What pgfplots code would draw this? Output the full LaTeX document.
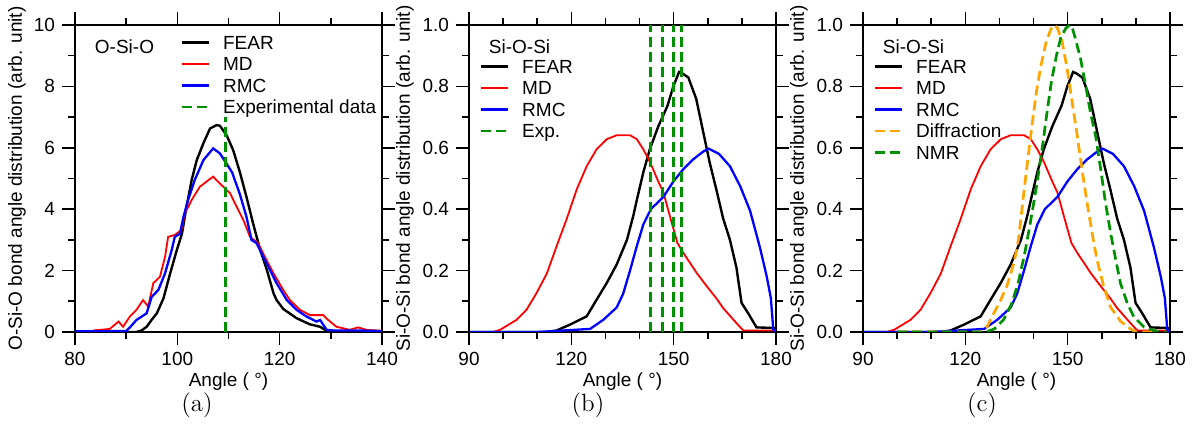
\documentclass[border=0pt]{standalone}
\usepackage{pgfplots}
\usepackage{pgfplotstable}
\pgfplotsset{compat=1.18}
\usepackage{fontspec}
\newfontfamily\arial{Liberation Sans}
\definecolor{expgreen}{RGB}{0,145,0}
\definecolor{difforange}{RGB}{255,165,0}

\pgfplotstableread{
a v
90 0
113 0
115.7 0.005
119.6 0.024
124.5 0.051
127.4 0.105
130.4 0.16
133.3 0.22
136.3 0.30
138.2 0.38
139.2 0.43
141.1 0.52
143 0.595
145.5 0.67
148.2 0.737
149.9 0.80
151.6 0.847
152.6 0.842
154.3 0.829
156.6 0.76
158.5 0.66
160.6 0.55
162.6 0.46
164.5 0.37
166.5 0.30
168.4 0.21
169.9 0.095
171.9 0.06
174.3 0.015
179.6 0.013
180 0
}\fearSi

\pgfplotstableread{
a v
90 0
97 0
99.1 0.007
104 0.04
106.9 0.073
109.8 0.127
112.8 0.19
115.7 0.28
118.6 0.367
121.6 0.465
124.5 0.54
127.4 0.595
130.4 0.628
133.3 0.641
137.2 0.641
139.2 0.628
141.1 0.595
143 0.555
145.5 0.49
147 0.454
148.9 0.377
151.1 0.29
152.8 0.258
154.8 0.225
156.7 0.193
159.7 0.149
162.5 0.11
164.5 0.078
168.4 0.029
170.4 0.005
180 0.005
}\mdSi

\pgfplotstableread{
a v
90 0
110 0
125.5 0.01
129.4 0.04
133.3 0.08
135.2 0.125
137.2 0.2
139.2 0.28
141.1 0.35
143.3 0.40
147 0.44
149.9 0.49
152.8 0.53
155.8 0.563
158.7 0.588
160.3 0.597
163.3 0.58
166.5 0.54
169.5 0.475
172.4 0.395
175.3 0.275
177.3 0.18
178.5 0.11
179.2 0.008
180 0
}\rmcSi

\pgfplotsset{
  myaxis/.style={
    scale only axis, width=153.5pt, height=153.5pt,
    axis line style={line width=0.8pt},
    tick align=outside,
    major tick length=6.5pt, minor tick length=3.5pt,
    tick style={black, line width=0.8pt},
    font=\arial\fontsize{9.5}{11}\selectfont,
    tick label style={font=\arial\fontsize{9.5}{11}\selectfont},
    /pgf/number format/assume math mode=true,
    xlabel style={at={(axis description cs:0.5,-0.163)}, anchor=center},
    legend style={draw=none, fill=none, inner sep=0pt, anchor=north west,
      nodes={inner sep=0pt, text height=7pt, text depth=0.2pt, font=\arial\fontsize{9.5}{11}\selectfont},
      column sep=6.5pt, row sep=3.55pt},
    legend cell align=left,
    legend image code/.code={\draw[##1] (0pt,0pt) -- (13.5pt,0pt);},
    xlabel={Angle ( °)},
  },
  sioaxis/.style={
    myaxis,
    xmin=90, xmax=180, ymin=0, ymax=1,
    xtick={90,120,150,180}, minor x tick num=2,
    ytick={0,0.2,0.4,0.6,0.8,1.0}, minor y tick num=1,
    yticklabel style={/pgf/number format/.cd, fixed, fixed zerofill, precision=1},
    ylabel={Si-O-Si bond angle distribution (arb. unit)},
    ylabel style={at={(axis description cs:-0.2085,0.5)}, anchor=center},
    legend style={at={(axis description cs:0.033,0.89)}},
  },
  fearline/.style={black, line width=1.2pt},
  mdline/.style={red, line width=0.9pt},
  rmcline/.style={blue, line width=1.15pt},
  dashline/.style={line width=1.35pt, dash pattern=on 5pt off 2.5pt},
}

\begin{document}
\begin{tikzpicture}
\useasboundingbox (0,0) rectangle (596.5pt,219pt);

% ---------------- (a) ----------------
\begin{axis}[myaxis, at={(37.5pt,53pt)}, anchor=south west,
  xmin=80, xmax=140, ymin=0, ymax=10,
  xtick={80,100,120,140}, minor x tick num=1,
  ytick={0,2,4,6,8,10}, minor y tick num=1,
  ylabel={O-Si-O bond angle distribution (arb. unit)},
  ylabel style={at={(axis description cs:-0.189,0.5)}, anchor=center},
  legend style={at={(axis description cs:0.342,0.968)}},
]
\addplot[fearline] coordinates {
(80,0) (92,0) (93,0.05) (94,0.17) (95,0.4) (96,0.61) (97.3,1.1) (98.6,1.91) (99.9,2.67) (100.9,3.2)
(101.8,4.08) (102.8,4.95) (103.8,5.6) (105.1,6.15) (106.4,6.63) (107.7,6.74)
(108.3,6.72) (109.6,6.42) (110.9,5.93) (112.2,5.22) (113.5,4.41) (114.8,3.54)
(116.2,2.67) (117.5,2.02) (118.8,1.26) (119.4,1.04) (120.7,0.75) (123.3,0.45)
(125.9,0.25) (127.9,0.17) (129.5,0.01) (140,0)
};
\addlegendentry{FEAR}
\addplot[mdline] coordinates {
(83.5,0.05) (86.8,0.1) (88.5,0.34) (89.4,0.17) (90.7,0.5) (92,0.72) (93.3,1.04)
(94.3,0.83) (95.3,1.59) (96.6,1.8) (97.6,2.45) (98.2,3.1) (99.5,3.16) (100.8,3.32)
(101.5,3.87) (102.8,4.3) (104.4,4.73) (105.7,4.9) (107,5.06) (108.3,4.84)
(110.3,4.52) (111.6,4.08) (112.9,3.65) (114.2,3.1) (115.8,2.89) (117.1,2.45)
(118.8,1.91) (120.7,1.37) (122,1.04) (124,0.72) (125.9,0.55) (128.5,0.55)
(129.5,0.39) (131.1,0.17) (133.7,0.07) (135.3,0.15) (137,0.07) (140,0.04)
};
\addlegendentry{MD}
\addplot[rmcline] coordinates {
(80,0.02) (90,0.03) (91,0.2) (92,0.39) (94,0.61) (95,1.15) (96.3,1.37) (97.6,1.91)
(98.9,2.67) (99.5,3.1) (100.5,3.2) (101.2,3.75) (102.1,4.3) (103.4,4.95)
(105.1,5.6) (107,5.98) (108.3,5.82) (109.6,5.49) (110.7,5.2) (112.2,4.5)
(113.5,3.76) (114.5,3.0) (115.5,2.89) (116.8,2.45) (118.1,2.02) (119.4,1.59)
(121.4,1.04) (123.3,0.72) (125.3,0.5) (127.2,0.34) (127.9,0.39) (129.2,0.07)
(130.5,0.05) (135,0.05) (140,0.03)
};
\addlegendentry{RMC}
\addplot[expgreen, dashline] coordinates {(109.47,0) (109.47,7)};
\addlegendentry{Experimental data}
\node[anchor=west] at (axis description cs:0.042,0.928) {O-Si-O};
\end{axis}

% ---------------- (b) ----------------
\begin{axis}[sioaxis, at={(234.5pt,53pt)}, anchor=south west]
\addplot[fearline] table {\fearSi};
\addlegendentry{FEAR}
\addplot[mdline] table {\mdSi};
\addlegendentry{MD}
\addplot[rmcline] table {\rmcSi};
\addlegendentry{RMC}
\addplot[expgreen, dashline] coordinates {(143.3,0) (143.3,1)};
\addlegendentry{Exp.}
\addplot[expgreen, dashline, forget plot] coordinates {(146.8,0) (146.8,1)};
\addplot[expgreen, dashline, forget plot] coordinates {(149.9,0) (149.9,1)};
\addplot[expgreen, dashline, forget plot] coordinates {(152.2,0) (152.2,1)};
\node[anchor=west] at (axis description cs:0.042,0.928) {Si-O-Si};
\end{axis}

% ---------------- (c) ----------------
\begin{axis}[sioaxis, at={(431.5pt,53pt)}, anchor=south west]
\addplot[fearline] table {\fearSi};
\addlegendentry{FEAR}
\addplot[mdline] table {\mdSi};
\addlegendentry{MD}
\addplot[rmcline] table {\rmcSi};
\addlegendentry{RMC}
\addplot[difforange, dashline] coordinates {
(100,0) (124.3,0) (126.5,0.02) (128.3,0.06) (130.2,0.10) (132.2,0.15) (134.1,0.22)
(135.3,0.28) (136.3,0.37) (137.2,0.46) (138.3,0.56) (139.5,0.67) (140.8,0.78)
(142.2,0.87) (143.6,0.94) (145,0.985) (146,1.0) (147,0.99) (148.3,0.95) (149.8,0.86)
(151.3,0.75) (152.8,0.64) (154.2,0.53) (155.7,0.42) (157.2,0.32) (158.6,0.235)
(160.6,0.147) (162.6,0.08) (165.5,0.035) (168.4,0.01) (170,0) (175,0)
};
\addlegendentry{Diffraction}
\addplot[expgreen, dashline] coordinates {
(100,0) (126,0) (128.5,0.01) (131.2,0.04) (133.5,0.09) (135.5,0.16) (137.3,0.25)
(138.8,0.34) (140.2,0.43) (141.5,0.52) (142.8,0.62) (144,0.72) (145.3,0.82)
(146.7,0.9) (148,0.96) (149.5,0.99) (150.6,1.0) (151.5,0.985) (152.3,0.954)
(153.8,0.889) (155.3,0.80) (156.7,0.714) (158.2,0.638) (159.7,0.529) (161.1,0.42)
(162.6,0.322) (164.1,0.235) (165.5,0.158) (167.5,0.093) (169.4,0.049) (172.4,0.016)
(175.3,0.005) (177,0) (179,0)
};
\addlegendentry{NMR}
\node[anchor=west] at (axis description cs:0.042,0.928) {Si-O-Si};
\end{axis}

\node[font=\fontsize{12.5}{15}\selectfont] at (98.5pt,16.5pt) {(a)};
\node[font=\fontsize{12.5}{15}\selectfont] at (294pt,16.5pt) {(b)};
\node[font=\fontsize{12.5}{15}\selectfont] at (491pt,16.5pt) {(c)};
\end{tikzpicture}
\end{document}
